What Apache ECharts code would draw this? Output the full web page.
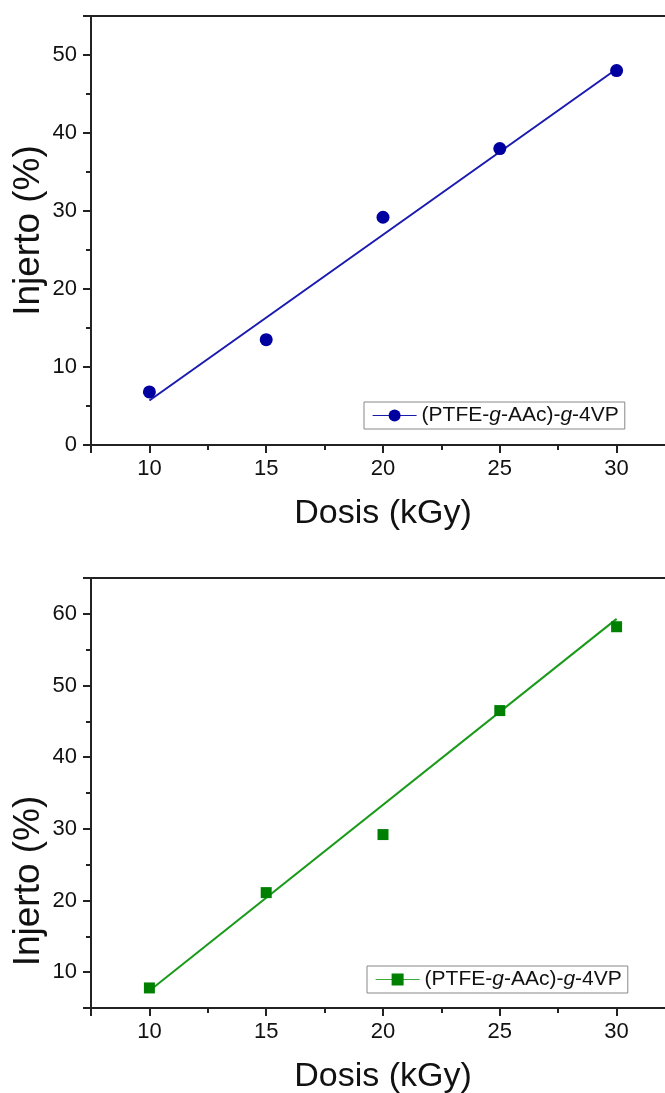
<!DOCTYPE html>
<html>
<head>
<meta charset="utf-8">
<script src="https://cdn.jsdelivr.net/npm/echarts@6/dist/echarts.min.js"></script>
<style>html,body{margin:0;padding:0;background:#fff;}#c{width:665px;height:1093px;}</style>
</head>
<body>
<div id="c"></div>
<script>
// ---- data ----
const dosis = [10, 15, 20, 25, 30];
const injertoTop = [6.8, 13.5, 29.2, 38.0, 48.0];
const fitTop = [[10, 5.7], [30, 48.2]];
const injertoBottom = [7.8, 21.1, 29.2, 46.5, 58.2];
const fitBottom = [[10, 7.4], [30, 59.3]];
const xName = 'Dosis (kGy)';
const yName = 'Injerto (%)';
const legendRich = '{n|(PTFE-}{i|g}{n|-AAc)-}{i|g}{n|-4VP}';

const FONT = "'Liberation Sans', Arial, sans-serif";
const AX = '#222';
const XMIN = 7.5, XMAX = 32.5;

function xAxisBottom(gi) {
  return {
    type: 'value', gridIndex: gi, position: 'bottom', min: XMIN, max: XMAX,
    minInterval: 5, maxInterval: 5,
    name: xName, nameLocation: 'middle', nameGap: 52,
    nameTextStyle: { fontFamily: FONT, fontSize: 34, color: '#111' },
    axisLine: { show: true, lineStyle: { color: AX, width: 2 } },
    axisTick: { show: true, length: 8, lineStyle: { color: AX, width: 2 } },
    minorTick: { show: true, splitNumber: 2, length: 5, lineStyle: { color: AX, width: 2 } },
    axisLabel: { fontFamily: FONT, fontSize: 22, color: '#111', margin: 13, showMinLabel: false, showMaxLabel: false },
    splitLine: { show: false }
  };
}
function xAxisTop(gi) {
  return {
    type: 'value', gridIndex: gi, position: 'top', min: XMIN, max: XMAX,
    axisLine: { show: true, lineStyle: { color: AX, width: 2 } },
    axisTick: { show: false }, axisLabel: { show: false }, splitLine: { show: false }
  };
}
function yAxis(gi, min, max, pad) {
  return {
    type: 'value', gridIndex: gi, min: min, max: max,
    minInterval: 10, maxInterval: 10,
    name: yName, nameLocation: 'middle', nameGap: 44, nameMoveOverlap: false,
    nameTextStyle: { fontFamily: FONT, fontSize: 37, color: '#111', padding: pad },
    axisLine: { show: true, lineStyle: { color: AX, width: 2 } },
    axisTick: { show: true, length: 8, lineStyle: { color: AX, width: 2 } },
    minorTick: { show: true, splitNumber: 2, length: 5, lineStyle: { color: AX, width: 2 } },
    axisLabel: { fontFamily: FONT, fontSize: 22, color: '#111', margin: 14,
      showMinLabel: min % 10 === 0, showMaxLabel: false },
    splitLine: { show: false }
  };
}
function legend(top, left, name, color, lineColor) {
  return {
    top: top, left: left, orient: 'horizontal',
    padding: [3, 6, 3, 8],
    borderColor: '#888', borderWidth: 1, borderRadius: 0,
    itemWidth: 44, itemHeight: 15, itemGap: 0,
    selectedMode: false,
    data: [{ name: name, lineStyle: { opacity: 1, width: 1.2, color: lineColor, type: 'solid' }, itemStyle: { color: color } }],
    formatter: function () { return legendRich; },
    textStyle: {
      fontFamily: FONT, fontSize: 21, color: '#111',
      rich: {
        n: { fontFamily: FONT, fontSize: 21, color: '#111' },
        i: { fontFamily: FONT, fontSize: 21, color: '#111', fontStyle: 'italic' }
      }
    }
  };
}

const chart = echarts.init(document.getElementById('c'), null, { renderer: 'canvas' });
chart.setOption({
  backgroundColor: '#fff',
  animation: false,
  grid: [
    { left: 91, top: 16, width: 584, height: 429, containLabel: false, outerBoundsMode: 'none' },
    { left: 91, top: 578, width: 584, height: 430, containLabel: false, outerBoundsMode: 'none' }
  ],
  xAxis: [xAxisBottom(0), xAxisTop(0), xAxisBottom(1), xAxisTop(1)],
  yAxis: [yAxis(0, 0, 55, 0), yAxis(1, 5, 65, [0, 176, 0, 0])],
  legend: [
    legend(402, 364, 'PTFE-A', '#0000a0', '#1a1aa8'),
    legend(966, 367, 'PTFE-B', '#008000', '#3aa83a')
  ],
  series: [
    {
      name: 'PTFE-A', type: 'line', xAxisIndex: 0, yAxisIndex: 0,
      data: dosis.map((d, i) => [d, injertoTop[i]]),
      symbol: 'circle', symbolSize: 13,
      itemStyle: { color: '#0000a0' },
      lineStyle: { opacity: 0, width: 0, color: '#1a1aa8' },
      z: 3
    },
    {
      name: 'fitA', type: 'line', xAxisIndex: 0, yAxisIndex: 0,
      data: fitTop, showSymbol: false, symbol: 'none',
      lineStyle: { color: '#1a1ab0', width: 2 }, z: 2
    },
    {
      name: 'PTFE-B', type: 'line', xAxisIndex: 2, yAxisIndex: 1,
      data: dosis.map((d, i) => [d, injertoBottom[i]]),
      symbol: 'rect', symbolSize: 11,
      itemStyle: { color: '#008000' },
      lineStyle: { opacity: 0, width: 0, color: '#3aa83a' },
      z: 3
    },
    {
      name: 'fitB', type: 'line', xAxisIndex: 2, yAxisIndex: 1,
      data: fitBottom, showSymbol: false, symbol: 'none',
      lineStyle: { color: '#1a9a1a', width: 2 }, z: 2
    }
  ]
});
</script>
</body>
</html>
